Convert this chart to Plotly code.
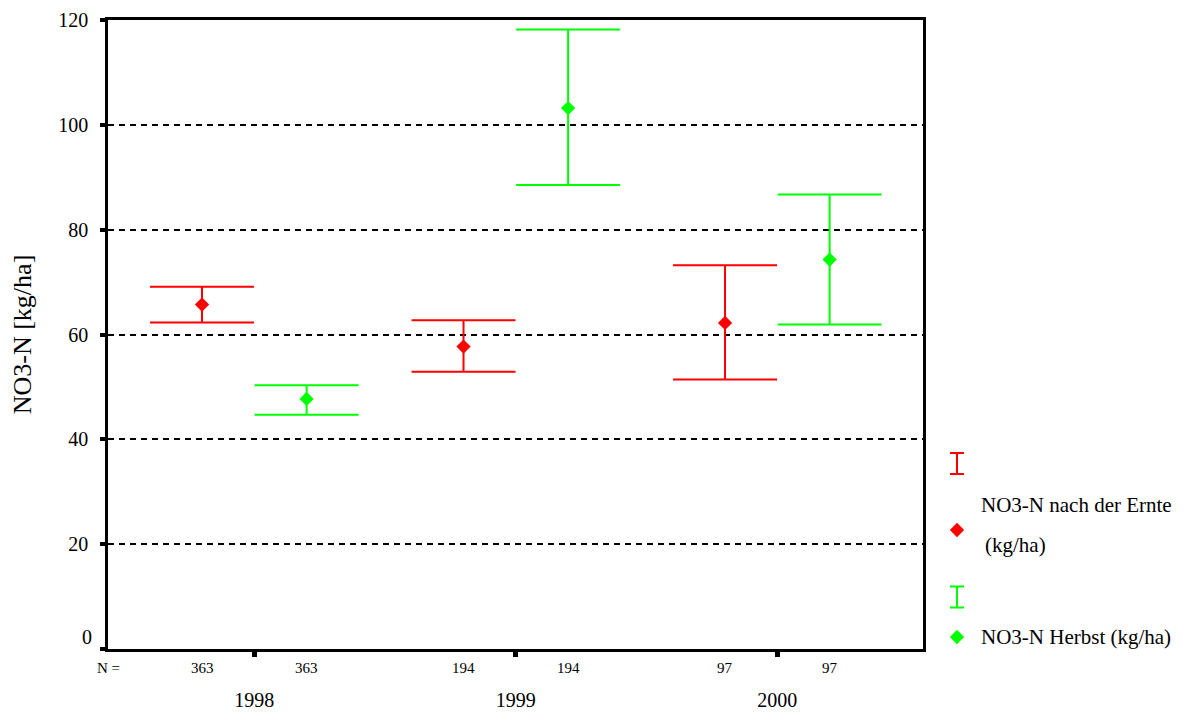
import plotly.graph_objects as go

# ---- data ----
years = ["1998", "1999", "2000"]
counts_red = [363, 194, 97]
counts_green = [363, 194, 97]
red_mean = [65.7, 57.7, 62.2]
red_upper = [69.1, 62.7, 73.2]
red_lower = [62.3, 52.9, 51.4]
green_mean = [47.7, 103.2, 74.3]
green_upper = [50.3, 118.2, 86.7]
green_lower = [44.7, 88.5, 61.9]
y_ticks = [0, 20, 40, 60, 80, 100, 120]
y_tick_labels = ["", "20", "40", "60", "80", "100", "120"]
series_names = ["NO3-N nach der Ernte", "NO3-N Herbst (kg/ha)"]

RED = "#ff0000"
GREEN = "#00ff00"
FONT = "Liberation Serif, Times New Roman, Times, serif"
OFF = 0.2

grp = list(range(len(years)))
xr = [g - OFF for g in grp]
xg = [g + OFF for g in grp]

fig = go.Figure()


def add_series(x, mean, up, lo, color):
    fig.add_trace(go.Scatter(
        x=x, y=mean, mode="markers",
        marker=dict(symbol="diamond", size=11, color=color),
        error_y=dict(type="data", symmetric=False,
                     array=[u - m for u, m in zip(up, mean)],
                     arrayminus=[m - l for m, l in zip(mean, lo)],
                     color=color, thickness=2, width=52),
        showlegend=False, hoverinfo="skip"))


add_series(xr, red_mean, red_upper, red_lower, RED)
add_series(xg, green_mean, green_upper, green_lower, GREEN)

# ---- manual legend on a helper axis (pixel-like coordinates) ----
fig.add_trace(go.Scatter(x=[957], y=[463.5], mode="markers", xaxis="x2", yaxis="y2",
                         marker=dict(size=1, color=RED, opacity=0),
                         error_y=dict(type="constant", value=10.5, color=RED, thickness=2, width=7),
                         showlegend=False, hoverinfo="skip"))
fig.add_trace(go.Scatter(x=[957], y=[530], mode="markers", xaxis="x2", yaxis="y2",
                         marker=dict(symbol="diamond", size=11, color=RED),
                         showlegend=False, hoverinfo="skip"))
fig.add_trace(go.Scatter(x=[957], y=[597], mode="markers", xaxis="x2", yaxis="y2",
                         marker=dict(size=1, color=GREEN, opacity=0),
                         error_y=dict(type="constant", value=10.5, color=GREEN, thickness=2, width=7),
                         showlegend=False, hoverinfo="skip"))
fig.add_trace(go.Scatter(x=[957], y=[637], mode="markers", xaxis="x2", yaxis="y2",
                         marker=dict(symbol="diamond", size=11, color=GREEN),
                         showlegend=False, hoverinfo="skip"))

annotations = []
annotations.append(dict(x=979, y=505, xref="x2", yref="y2", text=series_names[0],
                        showarrow=False, xanchor="left", yanchor="middle",
                        font=dict(family=FONT, size=21, color="black")))
annotations.append(dict(x=983, y=545, xref="x2", yref="y2", text="(kg/ha)",
                        showarrow=False, xanchor="left", yanchor="middle",
                        font=dict(family=FONT, size=21, color="black")))
annotations.append(dict(x=979, y=637, xref="x2", yref="y2", text=series_names[1],
                        showarrow=False, xanchor="left", yanchor="middle",
                        font=dict(family=FONT, size=21, color="black")))

# N labels
for x, n in zip(xr, counts_red):
    annotations.append(dict(x=x, y=0, xref="x", yref="paper", text=str(n), showarrow=False,
                            xanchor="center", yanchor="middle", yshift=-19,
                            font=dict(family=FONT, size=15, color="black")))
for x, n in zip(xg, counts_green):
    annotations.append(dict(x=x, y=0, xref="x", yref="paper", text=str(n), showarrow=False,
                            xanchor="center", yanchor="middle", yshift=-19,
                            font=dict(family=FONT, size=15, color="black")))
annotations.append(dict(x=-0.5595, y=0, xref="x", yref="paper", text="N =", showarrow=False,
                        xanchor="center", yanchor="middle", yshift=-19,
                        font=dict(family=FONT, size=15, color="black")))
# zero label (drawn slightly above its tick as in the original)
annotations.append(dict(x=0, y=0, xref="paper", yref="y", text="0", showarrow=False,
                        xanchor="right", yanchor="middle", xshift=-14, yshift=12,
                        font=dict(family=FONT, size=20, color="black")))

fig.update_layout(
    width=1183, height=713,
    margin=dict(l=108, r=0, t=20, b=64, autoexpand=False),
    paper_bgcolor="white", plot_bgcolor="white",
    font=dict(family=FONT, color="black"),
    showlegend=False,
    annotations=annotations,
    xaxis=dict(domain=[0, 0.75814], range=[-0.5595, 2.557],
               tickvals=grp, ticktext=years, automargin=False,
               tickfont=dict(family=FONT, size=20, color="black"),
               ticks="outside", ticklen=5, tickwidth=5, tickcolor="black",
               ticklabelstandoff=26,
               showline=True, linecolor="black", linewidth=2.5, mirror=True,
               showgrid=False, zeroline=False),
    yaxis=dict(range=[0, 120], tickvals=y_ticks, ticktext=y_tick_labels, automargin=False,
               tickfont=dict(family=FONT, size=20, color="black"),
               ticks="outside", ticklen=5, tickwidth=4, tickcolor="black",
               ticklabelstandoff=8,
               showline=True, linecolor="black", linewidth=2.5, mirror=True,
               showgrid=True, gridcolor="black", gridwidth=2, griddash="6px,5px",
               zeroline=False,
               title=dict(text="NO3-N [kg/ha]", font=dict(family=FONT, size=26, color="black"),
                          standoff=20)),
    xaxis2=dict(domain=[0.7693, 1], range=[935, 1183], anchor="y2",
                visible=False, fixedrange=True),
    yaxis2=dict(domain=[0, 1], range=[649, 20], anchor="x2",
                visible=False, fixedrange=True),
)

fig.write_html("out.html")
